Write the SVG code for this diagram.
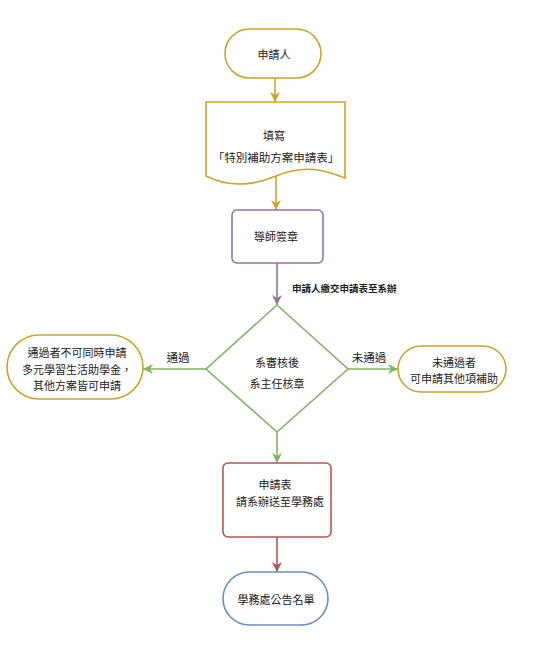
<svg xmlns="http://www.w3.org/2000/svg" width="554" height="656" viewBox="0 0 554 656">
<style>
text{font-family:"Noto Sans CJK TC","Noto Sans CJK SC",sans-serif;font-size:11px;fill:#222;text-anchor:middle}
.gold{fill:#fff;stroke:#cfa32b;stroke-width:1.6}
.purple{fill:#fff;stroke:#9673a6;stroke-width:1.6}
.green{fill:#fff;stroke:#82b366;stroke-width:1.6}
.red{fill:#fff;stroke:#b85450;stroke-width:1.6}
.blue{fill:#fff;stroke:#6c8ebf;stroke-width:1.6}
.c{fill:none;stroke-width:1.6}
.lbl{font-size:11.5px}
</style>
<defs>
<marker id="aGold" viewBox="0 0 10 10" refX="10" refY="5" markerWidth="10" markerHeight="10" markerUnits="userSpaceOnUse" orient="auto"><path d="M0,0 L10,5 L0,10 L3,5 z" fill="#cfa32b"/></marker>
<marker id="aPurple" viewBox="0 0 10 10" refX="10" refY="5" markerWidth="10" markerHeight="10" markerUnits="userSpaceOnUse" orient="auto"><path d="M0,0 L10,5 L0,10 L3,5 z" fill="#9673a6"/></marker>
<marker id="aGreen" viewBox="0 0 10 10" refX="10" refY="5" markerWidth="10" markerHeight="10" markerUnits="userSpaceOnUse" orient="auto"><path d="M0,0 L10,5 L0,10 L3,5 z" fill="#82b366"/></marker>
<marker id="aRed" viewBox="0 0 10 10" refX="10" refY="5" markerWidth="10" markerHeight="10" markerUnits="userSpaceOnUse" orient="auto"><path d="M0,0 L10,5 L0,10 L3,5 z" fill="#b85450"/></marker>
</defs>
<rect width="554" height="656" fill="#fff"/>
<g id="connectors">
<line class="c" x1="275" y1="78" x2="275" y2="102" stroke="#cfa32b" marker-end="url(#aGold)"/>
<line class="c" x1="276" y1="174" x2="276" y2="210" stroke="#cfa32b" marker-end="url(#aGold)"/>
<line class="c" x1="277" y1="263" x2="277" y2="305" stroke="#9673a6" marker-end="url(#aPurple)"/>
<line class="c" x1="206" y1="369" x2="143" y2="369" stroke="#82b366" marker-end="url(#aGreen)"/>
<line class="c" x1="348" y1="369" x2="398" y2="369" stroke="#82b366" marker-end="url(#aGreen)"/>
<line class="c" x1="277" y1="432" x2="277" y2="463" stroke="#82b366" marker-end="url(#aGreen)"/>
<line class="c" x1="277" y1="537" x2="277" y2="572" stroke="#b85450" marker-end="url(#aRed)"/>
<text x="292" y="292" style="text-anchor:start;font-size:9.5px;font-weight:bold">申請人繳交申請表至系辦</text>
<text class="lbl" x="178" y="362">通過</text>
<text class="lbl" x="369" y="362">未通過</text>
</g>
<g id="n1">
<rect class="gold" x="225" y="29" width="96" height="49" rx="24.5"/>
<text x="274" y="59">申請人</text>
</g>
<g id="n2">
<path class="gold" d="M206,102 H345 V178 C325,170 305,164 276,176 C250,187 228,187 206,176 Z"/>
<text x="274" y="140">填寫</text>
<text x="276" y="162" style="font-size:11.5px">「特別補助方案申請表」</text>
</g>
<g id="n3">
<rect class="purple" x="232" y="210" width="91" height="53" rx="5"/>
<text x="276" y="241">導師簽章</text>
</g>
<g id="n4">
<path class="green" d="M277,305 L348,369 L277,432 L206,369 Z"/>
<text x="277" y="367">系審核後</text>
<text x="277" y="388">系主任核章</text>
</g>
<g id="n5">
<rect class="gold" x="7" y="335" width="136" height="64" rx="32"/>
<text x="77" y="357">通過者不可同時申請</text>
<text x="77" y="374">多元學習生活助學金，</text>
<text x="77" y="390">其他方案皆可申請</text>
</g>
<g id="n6">
<rect class="gold" x="398" y="346" width="108" height="46" rx="23"/>
<text x="454" y="367">未通過者</text>
<text x="454" y="383">可申請其他項補助</text>
</g>
<g id="n7">
<rect class="red" x="223" y="463" width="108" height="74" rx="5"/>
<text x="275" y="489">申請表</text>
<text x="280" y="506">請系辦送至學務處</text>
</g>
<g id="n8">
<rect class="blue" x="223" y="572" width="105" height="53" rx="26.5"/>
<text x="276" y="604">學務處公告名單</text>
</g>
</svg>
